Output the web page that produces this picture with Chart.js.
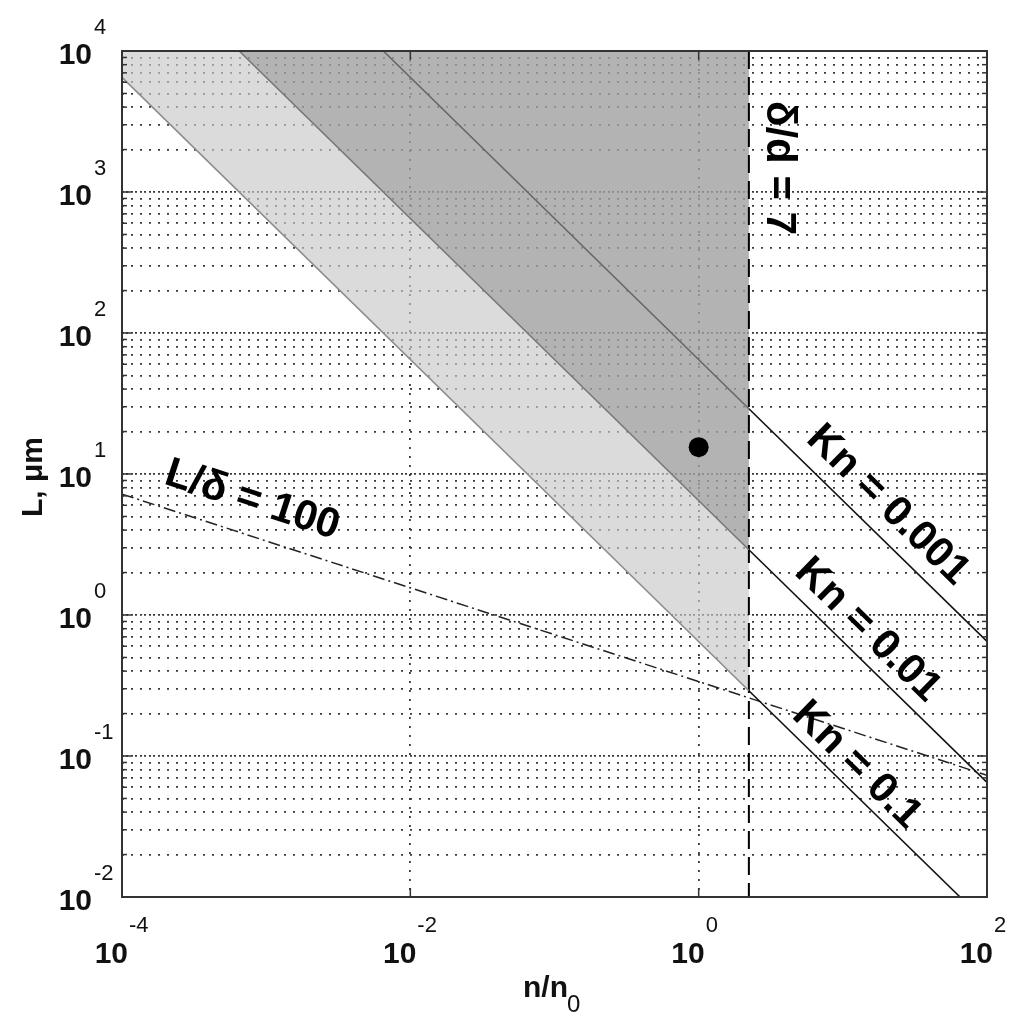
<!DOCTYPE html>
<html lang="en">
<head>
<meta charset="UTF-8">
<title>Knudsen number regimes</title>
<script src="https://cdn.jsdelivr.net/npm/chart.js"></script>
<style>
  html, body { margin: 0; padding: 0; background: #fff; }
  #wrap { width: 1024px; height: 1026px; position: relative; }
</style>
</head>
<body>
<div id="wrap"><canvas id="chart"></canvas></div>
<script>
// axis ranges and ticks (powers of ten)
const xRange = [1e-4, 1e2];
const yRange = [1e-2, 1e4];
const xTickExps = [-4, -2, 0, 2];
const xGridExps = [-2, 0];
const yTickExps = [-2, -1, 0, 1, 2, 3, 4];
const minorSteps = [2, 3, 4, 5, 6, 7, 8, 9];

// curves: x = n/n0, y = L in µm
const deltaDx = 2.23;
const kn01 = [{x: 1e-4, y: 6500}, {x: 2.23, y: 0.29}, {x: 65, y: 0.01}];
const kn001 = [{x: 6.5e-4, y: 1e4}, {x: 2.23, y: 2.9}, {x: 100, y: 0.065}];
const kn0001 = [{x: 6.5e-3, y: 1e4}, {x: 2.23, y: 29}, {x: 100, y: 0.65}];
const lDelta = [{x: 1e-4, y: 7.2}, {x: 100, y: 0.073}];
const deltaD = [{x: 2.23, y: 1e4}, {x: 2.23, y: 0.01}];
const marker = [{x: 1, y: 15.5}];

// shaded regions
const lightRegion = [{x: 1e-4, y: 1e4}, {x: 1e-4, y: 6500}, {x: 2.23, y: 0.29}, {x: 2.23, y: 2.9}, {x: 6.5e-4, y: 1e4}];
const darkRegion = [{x: 6.5e-4, y: 1e4}, {x: 2.23, y: 1e4}, {x: 2.23, y: 2.9}];

// text on the plot
const notes = [
  {text: 'Kn = 0.001', at: {x: 20.5, y: 6.0}, along: kn0001},
  {text: 'Kn = 0.01', at: {x: 14.9, y: 0.78}, along: kn001},
  {text: 'Kn = 0.1', at: {x: 12.5, y: 0.086}, along: kn01},
  {text: 'L/\u03b4 = 100', at: {x: 8e-4, y: 6.5}, along: lDelta},
  {text: '\u03b4/d = 7', at: {x: 3.6, y: 1480}, angle: 90}
];

const FONT = "'Liberation Sans', Arial, sans-serif";

const yGridValues = [];
yTickExps.forEach(e => {
  yGridValues.push(Math.pow(10, e));
  if (e < 4) minorSteps.forEach(s => yGridValues.push(s * Math.pow(10, e)));
});
const isPow10 = v => Math.abs(Math.log10(v) - Math.round(Math.log10(v))) < 1e-9;

function knSegment(dark) {
  return { borderColor: c => c.p0.parsed.x < deltaDx - 1e-6 ? dark : '#111' };
}

const decor = {
  id: 'decor',
  afterDatasetsDraw(chart) {
    const {ctx, chartArea: a, scales: {x, y}} = chart;
    const seg = (x1, y1, x2, y2) => { ctx.beginPath(); ctx.moveTo(x1, y1); ctx.lineTo(x2, y2); ctx.stroke(); };
    ctx.save();

    // notes along the curves
    ctx.fillStyle = '#000';
    ctx.font = 'bold 42px ' + FONT;
    ctx.textAlign = 'center';
    ctx.textBaseline = 'middle';
    notes.forEach(n => {
      let ang;
      if (n.along) {
        const p0 = n.along[0], p1 = n.along[n.along.length - 1];
        ang = Math.atan2(y.getPixelForValue(p1.y) - y.getPixelForValue(p0.y),
                         x.getPixelForValue(p1.x) - x.getPixelForValue(p0.x));
      } else {
        ang = n.angle * Math.PI / 180;
      }
      ctx.save();
      ctx.translate(x.getPixelForValue(n.at.x), y.getPixelForValue(n.at.y));
      ctx.rotate(ang);
      ctx.fillText(n.text, 0, 0);
      ctx.restore();
    });

    // frame
    ctx.strokeStyle = '#333';
    ctx.lineWidth = 2;
    ctx.strokeRect(a.left, a.top, a.right - a.left, a.bottom - a.top);

    // inward tick marks
    ctx.lineWidth = 1.5;
    y.ticks.forEach(t => {
      const py = y.getPixelForValue(t.value);
      const len = isPow10(t.value) ? 9 : 5;
      seg(a.left, py, a.left + len, py);
      seg(a.right, py, a.right - len, py);
    });
    xTickExps.forEach(e => {
      const px = x.getPixelForValue(Math.pow(10, e));
      seg(px, a.bottom, px, a.bottom - 9);
      seg(px, a.top, px, a.top + 9);
    });

    // tick labels 10^n
    ctx.fillStyle = '#111';
    ctx.textBaseline = 'alphabetic';
    yTickExps.forEach(e => {
      const py = y.getPixelForValue(Math.pow(10, e));
      ctx.font = 'bold 30px ' + FONT;
      ctx.textAlign = 'right';
      ctx.fillText('10', a.left - 30, py + 13);
      ctx.font = '22px ' + FONT;
      ctx.textAlign = 'left';
      ctx.fillText(String(e), a.left - 28, py - 17);
    });
    xTickExps.forEach(e => {
      const px = x.getPixelForValue(Math.pow(10, e));
      ctx.font = 'bold 30px ' + FONT;
      ctx.textAlign = 'right';
      ctx.fillText('10', px + 6, a.bottom + 66);
      ctx.font = '22px ' + FONT;
      ctx.textAlign = 'left';
      ctx.fillText(String(e), px + 7, a.bottom + 35);
    });

    // axis titles
    ctx.font = 'bold 30px ' + FONT;
    ctx.textAlign = 'left';
    ctx.fillText('n/n', 523, a.bottom + 100);
    ctx.font = '24px ' + FONT;
    ctx.fillText('0', 567, a.bottom + 115);
    ctx.save();
    ctx.translate(42, 477);
    ctx.rotate(-Math.PI / 2);
    ctx.font = 'bold 30px ' + FONT;
    ctx.textAlign = 'center';
    ctx.fillText('L, \u03bcm', 0, 0);
    ctx.restore();

    ctx.restore();
  }
};

new Chart(document.getElementById('chart'), {
  type: 'scatter',
  data: {
    datasets: [
      {data: marker, pointRadius: 10, pointBackgroundColor: '#000', pointBorderWidth: 0},
      {data: kn0001, showLine: true, pointRadius: 0, borderWidth: 1.6, borderColor: '#111', segment: knSegment('#666')},
      {data: kn001, showLine: true, pointRadius: 0, borderWidth: 1.6, borderColor: '#111', segment: knSegment('#777')},
      {data: kn01, showLine: true, pointRadius: 0, borderWidth: 1.6, borderColor: '#111', segment: knSegment('#8c8c8c')},
      {data: lDelta, showLine: true, pointRadius: 0, borderWidth: 1.5, borderColor: '#222', borderDash: [12, 4, 2, 4]},
      {data: deltaD, showLine: true, pointRadius: 0, borderWidth: 2, borderColor: '#000', borderDash: [18, 8]},
      {data: darkRegion, showLine: true, pointRadius: 0, borderWidth: 0, fill: 'shape', backgroundColor: 'rgba(160,160,160,0.8)'},
      {data: lightRegion, showLine: true, pointRadius: 0, borderWidth: 0, fill: 'shape', backgroundColor: 'rgba(200,200,200,0.66)'}
    ]
  },
  options: {
    responsive: true,
    maintainAspectRatio: false,
    animation: false,
    layout: {padding: {left: 122, top: 51, right: 37, bottom: 129}},
    plugins: {legend: {display: false}, tooltip: {enabled: false}},
    scales: {
      x: {
        type: 'logarithmic',
        min: xRange[0], max: xRange[1],
        afterBuildTicks: s => { s.ticks = xTickExps.map(e => ({value: Math.pow(10, e)})); },
        ticks: {display: false},
        grid: {
          drawTicks: false,
          lineWidth: 1.8,
          color: c => (c.tick && xGridExps.some(e => Math.abs(c.tick.value - Math.pow(10, e)) < 1e-9)) ? '#3a3a3a' : 'rgba(0,0,0,0)'
        },
        border: {display: false, dash: [2, 7]}
      },
      y: {
        type: 'logarithmic',
        min: yRange[0], max: yRange[1],
        afterBuildTicks: s => { s.ticks = yGridValues.map(v => ({value: v})); },
        ticks: {display: false},
        grid: {drawTicks: false, lineWidth: 1.8, color: '#3a3a3a'},
        border: {
          display: false,
          dash: c => (c.tick && isPow10(c.tick.value)) ? [2, 2, 2, 3] : [2, 7]
        }
      }
    }
  },
  plugins: [decor]
});
</script>
</body>
</html>
